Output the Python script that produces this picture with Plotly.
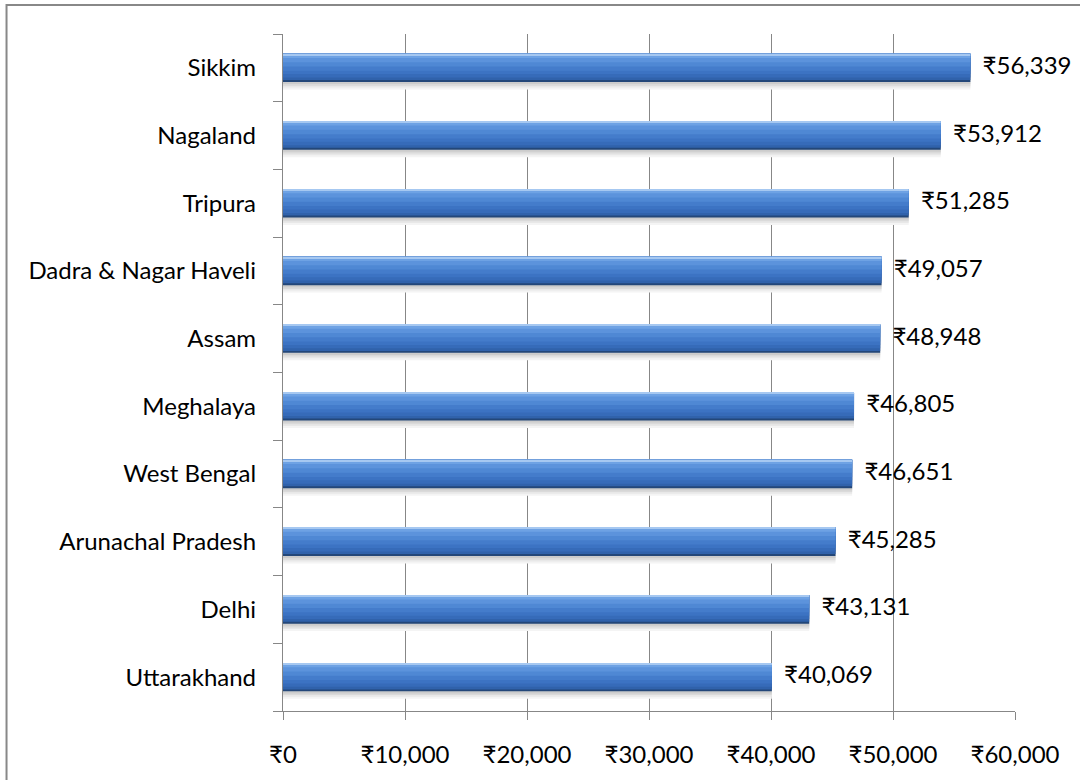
import plotly.graph_objects as go

# Per-capita figures by state / UT (bottom to top)
states = ["Uttarakhand", "Delhi", "Arunachal Pradesh", "West Bengal", "Meghalaya",
          "Assam", "Dadra & Nagar Haveli", "Tripura", "Nagaland", "Sikkim"]
values = [40069, 43131, 45285, 46651, 46805, 48948, 49057, 51285, 53912, 56339]
x_ticks = [0, 10000, 20000, 30000, 40000, 50000, 60000]
x_tick_text = ["₹0", "₹10,000", "₹20,000", "₹30,000", "₹40,000", "₹50,000", "₹60,000"]
value_labels = ["₹{:,}".format(v) for v in values]

FONT = "Lato, 'Open Sans', 'DejaVu Sans', sans-serif"
FONT_SIZE = 24
GRID = "#878787"

fig = go.Figure()

half = 0.21  # half bar thickness, in category units

# soft shadow under each bar (widest / palest first)
for depth, c in [(0.11, "#f4f4f4"), (0.08, "#e8e8e8"), (0.055, "#dadada"), (0.03, "#cccccc")]:
    fig.add_trace(go.Bar(
        x=values, y=states, orientation="h",
        width=2 * half + depth - 0.05, offset=-half - depth,
        marker=dict(color=c, line=dict(width=0)),
        hoverinfo="skip", showlegend=False,
    ))

# Cylinder look: nested layers hanging from the top edge, darkest (full depth) first,
# so the bar shades from a light rim at the top to a dark rim at the base
shade = [(1.00, "#234779"), (0.93, "#3062ab"), (0.84, "#366bb9"), (0.72, "#3c73c3"),
         (0.60, "#447ccb"), (0.45, "#4f88d4"), (0.30, "#5c93dc"), (0.15, "#6ea2e4"),
         (0.05, "#a6c8f1")]
for frac, c in shade:
    fig.add_trace(go.Bar(
        x=values, y=states, orientation="h",
        width=2 * half * frac, offset=half - 2 * half * frac,
        marker=dict(color=c, line=dict(width=0)),
        hoverinfo="skip", showlegend=False,
    ))

# value labels at the end of each bar
fig.add_trace(go.Scatter(
    x=values, y=states, mode="text",
    text=["\u00a0\u00a0" + t for t in value_labels],
    textposition="middle right",
    textfont=dict(family=FONT, size=FONT_SIZE, color="#000000"),
    hoverinfo="skip", showlegend=False, cliponaxis=False,
))

# outer chart frame
fig.add_shape(type="rect", xref="paper", yref="paper",
              x0=-0.3777, x1=1.12, y0=-0.12, y1=1.043,
              line=dict(color="#888888", width=2), fillcolor="rgba(0,0,0,0)",
              layer="below")

fig.update_layout(
    width=1080, height=780,
    margin=dict(l=283, r=65, t=34, b=64),
    paper_bgcolor="white", plot_bgcolor="white",
    barmode="overlay",
    font=dict(family=FONT, size=FONT_SIZE, color="#000000"),
    xaxis=dict(
        range=[0, 60000], tickvals=x_ticks, ticktext=x_tick_text,
        showgrid=True, gridcolor=GRID, gridwidth=1.3,
        zeroline=False, showline=True, linecolor=GRID, linewidth=1.3,
        ticks="outside", ticklen=8, tickcolor=GRID, tickwidth=1.3,
        ticklabelstandoff=14,
    ),
    yaxis=dict(
        categoryorder="array", categoryarray=states,
        showgrid=False, zeroline=False, showline=True, linecolor=GRID, linewidth=1.3,
        ticks="outside", ticklen=9, tickcolor=GRID, tickwidth=1.3,
        tickson="boundaries", ticklabelstandoff=21,
    ),
)

fig.write_html("out.html")
